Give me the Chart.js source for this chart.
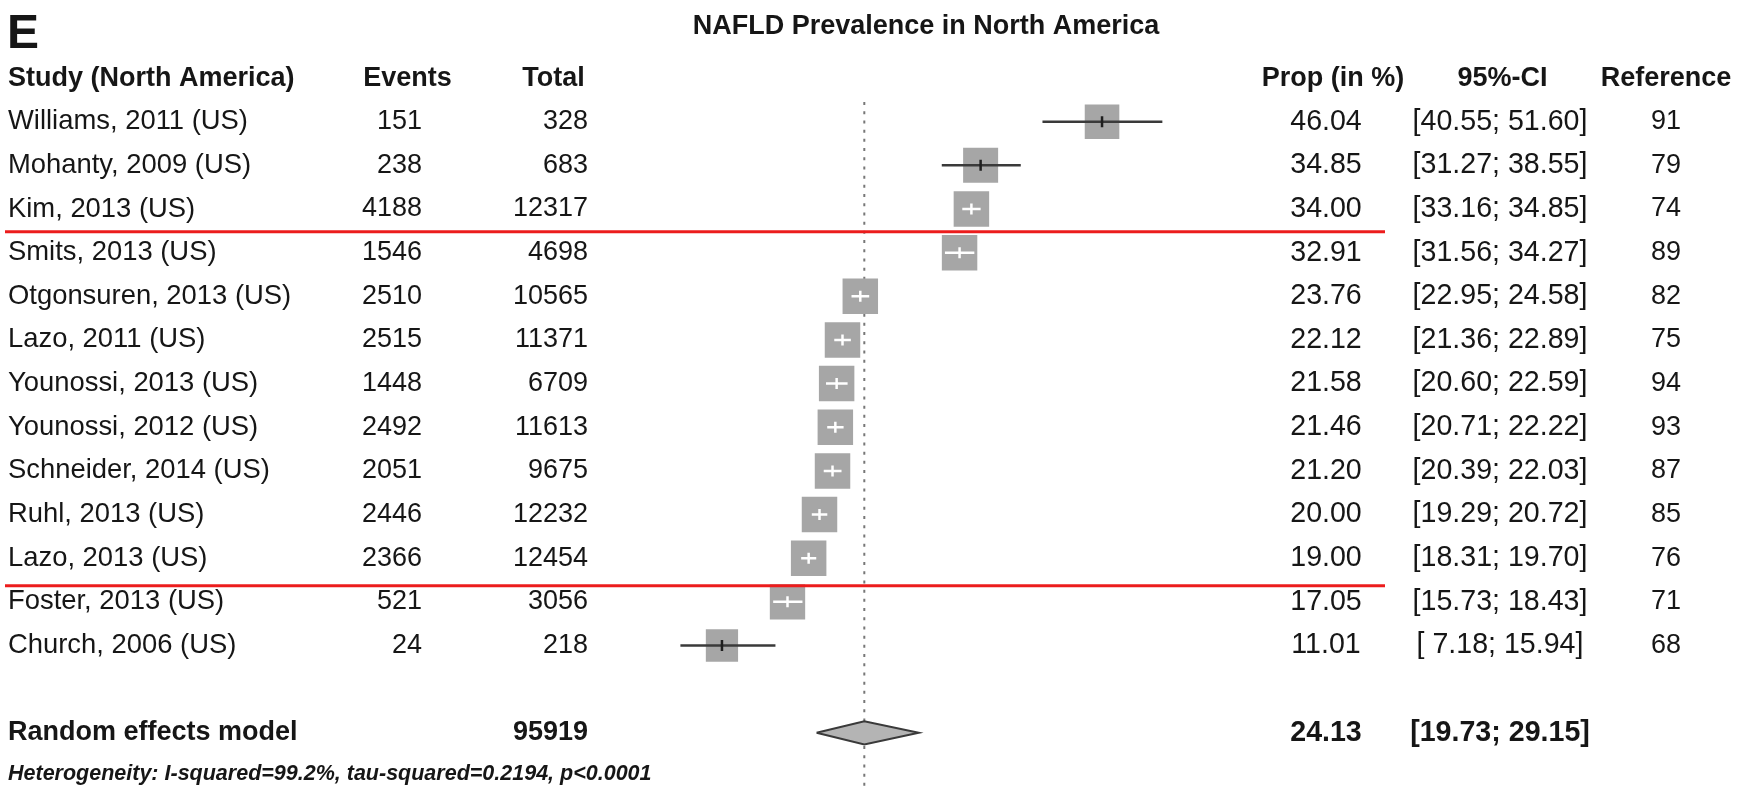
<!DOCTYPE html>
<html>
<head>
<meta charset="utf-8">
<title>NAFLD Prevalence in North America</title>
<script src="https://cdn.jsdelivr.net/npm/chart.js@4.4.1/dist/chart.umd.min.js"></script>
<style>
  html, body { margin: 0; padding: 0; background: #ffffff; overflow: hidden; }
  canvas { display: block; }
</style>
</head>
<body>
<canvas id="forest" width="1750" height="788"></canvas>
<script>
// ---- Study data ----
const studies = ['Williams, 2011 (US)', 'Mohanty, 2009 (US)', 'Kim, 2013 (US)', 'Smits, 2013 (US)',
  'Otgonsuren, 2013 (US)', 'Lazo, 2011 (US)', 'Younossi, 2013 (US)', 'Younossi, 2012 (US)',
  'Schneider, 2014 (US)', 'Ruhl, 2013 (US)', 'Lazo, 2013 (US)', 'Foster, 2013 (US)', 'Church, 2006 (US)'];
const events = [151, 238, 4188, 1546, 2510, 2515, 1448, 2492, 2051, 2446, 2366, 521, 24];
const totals = [328, 683, 12317, 4698, 10565, 11371, 6709, 11613, 9675, 12232, 12454, 3056, 218];
const props = [46.04, 34.85, 34.00, 32.91, 23.76, 22.12, 21.58, 21.46, 21.20, 20.00, 19.00, 17.05, 11.01];
const ciLower = [40.55, 31.27, 33.16, 31.56, 22.95, 21.36, 20.60, 20.71, 20.39, 19.29, 18.31, 15.73, 7.18];
const ciUpper = [51.60, 38.55, 34.85, 34.27, 24.58, 22.89, 22.59, 22.22, 22.03, 20.72, 19.70, 18.43, 15.94];
const references = [91, 79, 74, 89, 82, 75, 94, 93, 87, 85, 76, 71, 68];

// ---- Pooled estimate ----
const pooledLabel = 'Random effects model';
const pooledTotal = 95919;
const pooledProp = 24.13;
const pooledLower = 19.73;
const pooledUpper = 29.15;
const tauSquared = 0.2194;
const heterogeneity = 'Heterogeneity: I-squared=99.2%, tau-squared=0.2194, p<0.0001';

// ---- Labels ----
const panelLetter = 'E';
const chartTitle = 'NAFLD Prevalence in North America';
const columnHeaders = ['Study (North America)', 'Events', 'Total', 'Prop (in %)', '95%-CI', 'Reference'];
const separatorRows = [3.52, 11.63];   // red rules between study rows

// ---- Layout / styles ----
const FONT = "'Liberation Sans', Arial, Helvetica, sans-serif";
const TEXT = '#161616';
const BOX = '#a6a6a6';
const DARK = '#3a3a3a';
const BOX_MAX = 35.5;
const COL = { study: 8, eventsHead: 407.5, events: 422, totalHead: 553.5, total: 588, prop: 1326, propHead: 1333, ci: 1500, ciHead: 1502.5, ref: 1666 };
const LABEL_SIZE = 27.4;
const NUM_SIZE = 27;
const RIGHT_SIZE = 28.6;

const rowOf = i => i + 1;
const pooledRow = studies.length + 2;

// random-effects weights on the logit scale set the square sizes
const weights = events.map((e, i) => 1 / (1 / e + 1 / (totals[i] - e) + tauSquared));
const maxWeight = Math.max(...weights);
const boxSide = i => BOX_MAX * Math.sqrt(weights[i] / maxWeight);

const fmt = v => v.toFixed(2);
const fmtCI = (lo, hi) => '[' + (lo < 10 ? ' ' : '') + fmt(lo) + '; ' + (hi < 10 ? ' ' : '') + fmt(hi) + ']';

function ciInside(chart, i) {
  const xs = chart.scales.x;
  if (!xs) return false;
  const w = xs.getPixelForValue(ciUpper[i]) - xs.getPixelForValue(ciLower[i]);
  return w < boxSide(i);
}

const estimatePoints = props.map((p, i) => ({ x: p, y: rowOf(i) }));

const datasets = [];

// reference line at the pooled estimate
datasets.push({
  label: 'reference',
  data: [{ x: pooledProp, y: 0.55 }, { x: pooledProp, y: 16.6 }],
  showLine: true, borderColor: '#777777', borderWidth: 2, borderDash: [3, 6.2],
  pointRadius: 0, clip: false, order: 5
});

// pooled diamond
const halfH = 0.265;
datasets.push({
  label: 'pooled',
  data: [
    { x: pooledLower, y: pooledRow }, { x: pooledProp, y: pooledRow - halfH },
    { x: pooledUpper, y: pooledRow }, { x: pooledProp, y: pooledRow + halfH },
    { x: pooledLower, y: pooledRow }
  ],
  showLine: true, fill: 'shape', backgroundColor: '#b4b4b4',
  borderColor: DARK, borderWidth: 2, borderJoinStyle: 'miter', pointRadius: 0, order: 4
});

// study squares
datasets.push({
  label: 'studies',
  data: estimatePoints,
  pointStyle: 'rect',
  pointRadius: ctx => boxSide(ctx.dataIndex) / (2 * Math.SQRT1_2),
  pointBackgroundColor: BOX, pointBorderWidth: 0, order: 3
});

// confidence intervals
props.forEach((p, i) => {
  datasets.push({
    label: 'ci-' + i,
    data: [{ x: ciLower[i], y: rowOf(i) }, { x: ciUpper[i], y: rowOf(i) }],
    showLine: true, borderWidth: 2.5, pointRadius: 0,
    borderColor: ctx => ciInside(ctx.chart, i) ? '#ffffff' : DARK,
    order: 2
  });
});

// estimate ticks
datasets.push({
  label: 'ticks',
  data: estimatePoints,
  pointStyle: 'line', pointRotation: 90, pointRadius: 5.5, pointBorderWidth: 2.5,
  pointBorderColor: ctx => ciInside(ctx.chart, ctx.dataIndex) ? '#ffffff' : '#1e1e1e',
  order: 1
});

const tablePlugin = {
  id: 'forestTable',
  afterDraw(chart) {
    const ctx = chart.ctx;
    const ys = chart.scales.y;
    const yAt = r => ys.getPixelForValue(r);
    ctx.save();
    ctx.fillStyle = TEXT;
    ctx.textBaseline = 'middle';

    const put = (txt, x, y, align, weight, size, style) => {
      ctx.font = (style || 'normal') + ' ' + weight + ' ' + size + 'px ' + FONT;
      ctx.textAlign = align;
      ctx.fillText(txt, x, y);
    };

    // panel letter and title
    ctx.textBaseline = 'alphabetic';
    put(panelLetter, 7, 48, 'left', 'bold', 48);
    ctx.textBaseline = 'middle';
    put(chartTitle, 926, 26.5, 'center', 'bold', 27);

    // column headers
    const h = yAt(0);
    put(columnHeaders[0], COL.study, h, 'left', 'bold', 27);
    put(columnHeaders[1], COL.eventsHead, h, 'center', 'bold', 27);
    put(columnHeaders[2], COL.totalHead, h, 'center', 'bold', 27);
    put(columnHeaders[3], COL.propHead, h, 'center', 'bold', 27);
    put(columnHeaders[4], COL.ciHead, h, 'center', 'bold', 27);
    put(columnHeaders[5], COL.ref, h, 'center', 'bold', 27);

    // study rows
    studies.forEach((s, i) => {
      const y = yAt(rowOf(i));
      put(s, COL.study, y, 'left', 'normal', LABEL_SIZE);
      put(String(events[i]), COL.events, y, 'right', 'normal', NUM_SIZE);
      put(String(totals[i]), COL.total, y, 'right', 'normal', NUM_SIZE);
      put(fmt(props[i]), COL.prop, y, 'center', 'normal', RIGHT_SIZE);
      put(fmtCI(ciLower[i], ciUpper[i]), COL.ci, y, 'center', 'normal', RIGHT_SIZE);
      put(String(references[i]), COL.ref, y, 'center', 'normal', 27);
    });

    // pooled row
    const py = yAt(pooledRow);
    put(pooledLabel, COL.study, py, 'left', 'bold', 27);
    put(String(pooledTotal), COL.total, py, 'right', 'bold', 27);
    put(fmt(pooledProp), COL.prop, py, 'center', 'bold', RIGHT_SIZE);
    put(fmtCI(pooledLower, pooledUpper), COL.ci, py, 'center', 'bold', RIGHT_SIZE);

    // heterogeneity note
    put(heterogeneity, COL.study, yAt(pooledRow + 0.95), 'left', 'bold', 21.5, 'italic');

    // red separator rules
    ctx.strokeStyle = '#ec1c1c';
    ctx.lineWidth = 3;
    separatorRows.forEach(r => {
      const y = yAt(r);
      ctx.beginPath();
      ctx.moveTo(5, y);
      ctx.lineTo(1385, y);
      ctx.stroke();
    });
    ctx.restore();
  }
};

new Chart(document.getElementById('forest'), {
  type: 'scatter',
  data: { datasets },
  options: {
    responsive: false,
    animation: false,
    devicePixelRatio: 1,
    events: [],
    layout: { autoPadding: false, padding: { left: 602.5, right: 496.5, top: 34.4, bottom: 11.55 } },
    scales: {
      x: { type: 'linear', min: 0, max: 60, display: false },
      y: { type: 'linear', min: -1, max: 16, reverse: true, display: false }
    },
    plugins: {
      legend: { display: false },
      tooltip: { enabled: false },
      title: { display: false }
    }
  },
  plugins: [tablePlugin]
});
</script>
</body>
</html>
